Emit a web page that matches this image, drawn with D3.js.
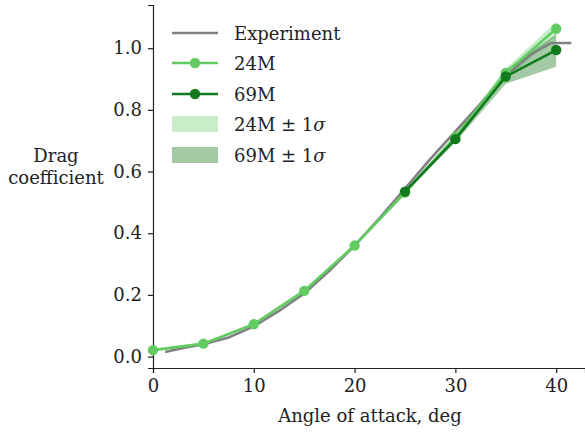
<!DOCTYPE html>
<html><head><meta charset="utf-8">
<script src="https://cdn.jsdelivr.net/npm/d3@7"></script>
<style>body{margin:0;background:#fff}svg text{font-family:"DejaVu Serif",serif;fill:#222}</style>
</head><body><svg id="c" width="585" height="432"></svg>
<script>
const expX = [1.2, 3, 5, 7.5, 10, 12.5, 15, 17.5, 20, 22.5, 25, 27.5, 30, 32.5, 35, 37.5, 39.5, 41.5];
const expY = [0.015, 0.028, 0.04, 0.062, 0.098, 0.148, 0.205, 0.278, 0.36, 0.45, 0.545, 0.64, 0.73, 0.82, 0.912, 0.98, 1.017, 1.017];
const angles = [0, 5, 10, 15, 20, 25, 30, 35, 40];
const cd24 = [0.021, 0.042, 0.105, 0.213, 0.36, 0.532, 0.712, 0.92, 1.063];
const cd24lo = [0.017, 0.038, 0.1, 0.207, 0.354, 0.525, 0.7, 0.9, 1.04];
const cd24hi = [0.025, 0.046, 0.11, 0.219, 0.366, 0.54, 0.722, 0.935, 1.085];
const angles69 = [25, 30, 35, 40];
const cd69 = [0.535, 0.705, 0.908, 0.994];
const cd69lo = [0.53, 0.695, 0.885, 0.94];
const cd69hi = [0.54, 0.715, 0.93, 1.045];
const xTicks = [0, 10, 20, 30, 40];
const yTicks = [0.0, 0.2, 0.4, 0.6, 0.8, 1.0];
const legendLabels = ["Experiment", "24M", "69M", "24M ± 1σ", "69M ± 1σ"];

const FS = "18px";
const svg = d3.select("#c");
const x = d3.scaleLinear().domain([0, 42.86]).range([153, 585]);
const y = d3.scaleLinear().domain([-0.037, 1.14]).range([368, 5]);
const c24 = "#62cc62", c69 = "#137a1e", cExp = "#808080";

const xa = svg.append("g").attr("transform", "translate(0,368)")
  .call(d3.axisBottom(x).tickValues(xTicks).tickFormat(d3.format("d")).tickSizeOuter(0).tickSize(5).tickPadding(6));
const ya = svg.append("g").attr("transform", "translate(153,0)")
  .call(d3.axisLeft(y).tickValues(yTicks).tickFormat(d3.format(".1f")).tickSizeOuter(0).tickSize(5).tickPadding(6));
[xa, ya].forEach(g => {
  g.attr("font-family", "DejaVu Serif");
  g.selectAll("text").style("font-size", FS).attr("fill", "#222");
  g.selectAll("line,path").attr("stroke", "#222").attr("stroke-width", 1.2);
});

const line = (xs, ys) => d3.line().x((d, i) => x(xs[i])).y(d => y(d))(ys);
const area = (xs, lo, hi) => d3.area().x((d, i) => x(xs[i])).y0((d, i) => y(lo[i])).y1((d, i) => y(hi[i]))(lo);

svg.append("path").attr("d", area(angles, cd24lo, cd24hi)).attr("fill", c24).attr("opacity", 0.35);
svg.append("path").attr("d", area(angles69, cd69lo, cd69hi)).attr("fill", c69).attr("opacity", 0.4);
svg.append("path").attr("d", line(expX, expY)).attr("fill", "none").attr("stroke", cExp).attr("stroke-width", 2.6);
svg.append("path").attr("d", line(angles, cd24)).attr("fill", "none").attr("stroke", c24).attr("stroke-width", 2.6);
svg.selectAll(".d24").data(cd24).enter().append("circle").attr("cx", (d, i) => x(angles[i])).attr("cy", d => y(d)).attr("r", 5.2).attr("fill", c24);
svg.append("path").attr("d", line(angles69, cd69)).attr("fill", "none").attr("stroke", c69).attr("stroke-width", 2.6);
svg.selectAll(".d69").data(cd69).enter().append("circle").attr("cx", (d, i) => x(angles69[i])).attr("cy", d => y(d)).attr("r", 5.2).attr("fill", c69);

const lg = svg.append("g");
const rows = [33, 63, 94, 124, 155];
const kinds = [["line", cExp, false], ["line", c24, true], ["line", c69, true], ["patch", c24, 0.35], ["patch", c69, 0.4]];
kinds.forEach((k, i) => {
  const yy = rows[i];
  if (k[0] === "line") {
    lg.append("line").attr("x1", 172).attr("x2", 218).attr("y1", yy).attr("y2", yy).attr("stroke", k[1]).attr("stroke-width", 2.6);
    if (k[2]) lg.append("circle").attr("cx", 195).attr("cy", yy).attr("r", 5.2).attr("fill", k[1]);
  } else {
    lg.append("rect").attr("x", 172).attr("y", yy - 8).attr("width", 46).attr("height", 16).attr("fill", k[1]).attr("opacity", k[2]);
  }
  const t = lg.append("text").attr("x", 234).attr("y", yy + 7).style("font-size", FS);
  const lab = legendLabels[i];
  if (lab.endsWith("σ")) {
    t.text(lab.slice(0, -1));
    t.append("tspan").style("font-style", "italic").text("σ");
  } else t.text(lab);
});

svg.append("text").attr("x", 370).attr("y", 422).attr("text-anchor", "middle").style("font-size", FS).text("Angle of attack, deg");
svg.append("text").attr("x", 56).attr("y", 162).attr("text-anchor", "middle").style("font-size", FS).text("Drag");
svg.append("text").attr("x", 56).attr("y", 184).attr("text-anchor", "middle").style("font-size", FS).text("coefficient");
</script></body></html>
